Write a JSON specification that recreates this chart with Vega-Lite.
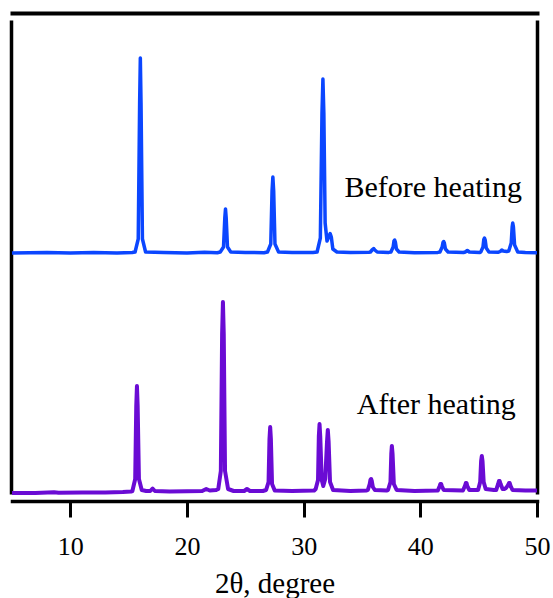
{
  "$schema": "https://vega.github.io/schema/vega-lite/v6.json",
  "width": 525,
  "height": 474,
  "autosize": "none",
  "padding": {"left": 12, "top": 20, "right": 16, "bottom": 104},
  "background": "white",
  "config": {
    "view": {"stroke": null},
    "axis": {"titleFont": "Liberation Serif", "titleFontSize": 29, "titleFontWeight": "normal", "titleColor": "black", "labelFont": "Liberation Serif"}
  },
  "datasets": {
    "before": [
      {"t": 5, "i": 0}, {"t": 8, "i": 0.5}, {"t": 10, "i": 0}, {"t": 12, "i": 0.5}, {"t": 14, "i": 0}, {"t": 15.3, "i": 0.5},
      {"t": 15.55, "i": 1}, {"t": 15.82, "i": 14}, {"t": 15.94, "i": 150}, {"t": 16.0, "i": 195}, {"t": 16.06, "i": 150}, {"t": 16.18, "i": 14}, {"t": 16.45, "i": 1},
      {"t": 18, "i": 0.5}, {"t": 20, "i": 0}, {"t": 21.5, "i": 0.8}, {"t": 22.6, "i": 0.3},
      {"t": 22.85, "i": 1}, {"t": 23.13, "i": 6}, {"t": 23.24, "i": 35}, {"t": 23.3, "i": 44}, {"t": 23.36, "i": 35}, {"t": 23.47, "i": 6}, {"t": 23.75, "i": 1},
      {"t": 25, "i": 0.5}, {"t": 26.6, "i": 0.3},
      {"t": 26.9, "i": 1}, {"t": 27.18, "i": 9}, {"t": 27.29, "i": 62}, {"t": 27.36, "i": 76}, {"t": 27.43, "i": 62}, {"t": 27.54, "i": 9}, {"t": 27.85, "i": 1},
      {"t": 29, "i": 0.5}, {"t": 30.8, "i": 0.5},
      {"t": 31.15, "i": 1}, {"t": 31.43, "i": 15}, {"t": 31.57, "i": 140}, {"t": 31.65, "i": 174}, {"t": 31.73, "i": 140}, {"t": 31.84, "i": 30}, {"t": 32.0, "i": 12}, {"t": 32.17, "i": 17}, {"t": 32.27, "i": 19.5}, {"t": 32.37, "i": 16}, {"t": 32.5, "i": 4}, {"t": 32.85, "i": 1},
      {"t": 34, "i": 0.5}, {"t": 35.6, "i": 0.8},
      {"t": 35.72, "i": 1}, {"t": 35.9, "i": 3.5}, {"t": 36.0, "i": 4.5}, {"t": 36.1, "i": 3}, {"t": 36.3, "i": 1},
      {"t": 37.3, "i": 0.6},
      {"t": 37.48, "i": 1}, {"t": 37.67, "i": 6}, {"t": 37.74, "i": 12}, {"t": 37.8, "i": 13}, {"t": 37.86, "i": 11}, {"t": 37.95, "i": 4}, {"t": 38.18, "i": 1},
      {"t": 39.5, "i": 0.3}, {"t": 41.5, "i": 0.6},
      {"t": 41.68, "i": 1}, {"t": 41.87, "i": 6}, {"t": 41.94, "i": 10.5}, {"t": 42.0, "i": 11.5}, {"t": 42.06, "i": 10}, {"t": 42.15, "i": 4}, {"t": 42.38, "i": 1},
      {"t": 43.7, "i": 0.5},
      {"t": 43.85, "i": 1}, {"t": 44.03, "i": 2.5}, {"t": 44.2, "i": 1},
      {"t": 45.1, "i": 0.5},
      {"t": 45.18, "i": 1}, {"t": 45.37, "i": 6}, {"t": 45.44, "i": 13.5}, {"t": 45.5, "i": 15}, {"t": 45.56, "i": 13}, {"t": 45.65, "i": 5}, {"t": 45.88, "i": 1},
      {"t": 46.7, "i": 0.8},
      {"t": 46.85, "i": 1.5}, {"t": 46.98, "i": 3}, {"t": 47.1, "i": 2}, {"t": 47.4, "i": 1.5},
      {"t": 47.58, "i": 2}, {"t": 47.79, "i": 10}, {"t": 47.87, "i": 26}, {"t": 47.92, "i": 30}, {"t": 47.98, "i": 26}, {"t": 48.08, "i": 8}, {"t": 48.35, "i": 1},
      {"t": 49, "i": 0.5}, {"t": 50, "i": 0.3}
    ],
    "after": [
      {"t": 5, "i": 1}, {"t": 7, "i": 1}, {"t": 8.6, "i": 1.8}, {"t": 9, "i": 1.2}, {"t": 11, "i": 1.5}, {"t": 13, "i": 1.5}, {"t": 14.5, "i": 2}, {"t": 15.2, "i": 2.5},
      {"t": 15.32, "i": 3}, {"t": 15.56, "i": 15}, {"t": 15.65, "i": 88}, {"t": 15.71, "i": 108}, {"t": 15.77, "i": 88}, {"t": 15.88, "i": 15}, {"t": 16.12, "i": 4}, {"t": 16.5, "i": 3},
      {"t": 16.85, "i": 3}, {"t": 17.05, "i": 5.5}, {"t": 17.25, "i": 3},
      {"t": 18.5, "i": 2.5}, {"t": 20, "i": 2.7}, {"t": 21.3, "i": 3}, {"t": 21.65, "i": 5}, {"t": 21.95, "i": 3.5}, {"t": 22.5, "i": 4},
      {"t": 22.68, "i": 5}, {"t": 22.9, "i": 23}, {"t": 23.01, "i": 160}, {"t": 23.08, "i": 192}, {"t": 23.15, "i": 160}, {"t": 23.26, "i": 23}, {"t": 23.52, "i": 5}, {"t": 24, "i": 3},
      {"t": 24.9, "i": 3}, {"t": 25.14, "i": 5}, {"t": 25.4, "i": 3},
      {"t": 26.5, "i": 3},
      {"t": 26.78, "i": 4}, {"t": 26.99, "i": 12}, {"t": 27.07, "i": 55}, {"t": 27.13, "i": 67}, {"t": 27.19, "i": 55}, {"t": 27.29, "i": 10}, {"t": 27.52, "i": 3.5},
      {"t": 29, "i": 3}, {"t": 30.9, "i": 3.5},
      {"t": 31.03, "i": 5}, {"t": 31.23, "i": 14}, {"t": 31.3, "i": 58}, {"t": 31.36, "i": 70}, {"t": 31.42, "i": 58}, {"t": 31.55, "i": 14}, {"t": 31.68, "i": 8}, {"t": 31.85, "i": 15}, {"t": 32.0, "i": 52}, {"t": 32.07, "i": 64}, {"t": 32.14, "i": 52}, {"t": 32.26, "i": 12}, {"t": 32.52, "i": 4},
      {"t": 34, "i": 3}, {"t": 35.4, "i": 3.5},
      {"t": 35.5, "i": 4}, {"t": 35.66, "i": 10}, {"t": 35.72, "i": 14}, {"t": 35.78, "i": 15}, {"t": 35.84, "i": 13}, {"t": 35.93, "i": 7}, {"t": 36.1, "i": 4},
      {"t": 37.1, "i": 3.5},
      {"t": 37.23, "i": 4}, {"t": 37.44, "i": 12}, {"t": 37.51, "i": 40}, {"t": 37.56, "i": 48}, {"t": 37.62, "i": 40}, {"t": 37.73, "i": 10}, {"t": 37.97, "i": 4},
      {"t": 39.5, "i": 3}, {"t": 41.45, "i": 3.5},
      {"t": 41.5, "i": 3.5}, {"t": 41.66, "i": 8}, {"t": 41.72, "i": 10}, {"t": 41.78, "i": 10}, {"t": 41.84, "i": 8}, {"t": 42.0, "i": 4},
      {"t": 43.6, "i": 3.5},
      {"t": 43.65, "i": 3.5}, {"t": 43.82, "i": 8}, {"t": 43.9, "i": 11}, {"t": 43.96, "i": 11}, {"t": 44.02, "i": 8}, {"t": 44.2, "i": 4},
      {"t": 44.9, "i": 4},
      {"t": 44.95, "i": 4}, {"t": 45.13, "i": 12}, {"t": 45.21, "i": 33}, {"t": 45.27, "i": 38}, {"t": 45.33, "i": 33}, {"t": 45.43, "i": 12}, {"t": 45.6, "i": 5}, {"t": 46.3, "i": 4},
      {"t": 46.5, "i": 4}, {"t": 46.67, "i": 10}, {"t": 46.74, "i": 13}, {"t": 46.8, "i": 13}, {"t": 46.88, "i": 10}, {"t": 47.05, "i": 5}, {"t": 47.2, "i": 5},
      {"t": 47.35, "i": 6}, {"t": 47.52, "i": 9}, {"t": 47.6, "i": 11}, {"t": 47.66, "i": 11}, {"t": 47.74, "i": 8}, {"t": 47.9, "i": 4},
      {"t": 49, "i": 3.5}, {"t": 50, "i": 3.5}
    ],
    "beforeLabel": [{"t": 33.5, "i": 56, "label": "Before heating"}],
    "afterLabel": [{"t": 34.55, "i": 80, "label": "After heating"}]
  },
  "layer": [
    {
      "layer": [
        {
          "data": {"name": "before"},
          "mark": {"type": "line", "color": "#0b46ff", "strokeWidth": 3.5, "strokeJoin": "round"},
          "encoding": {
            "x": {
              "field": "t", "type": "quantitative",
              "scale": {"domain": [5, 50], "nice": false, "zero": false},
              "axis": {"orient": "top", "offset": 7, "labels": false, "ticks": false, "grid": false, "title": null, "domainWidth": 4, "domainColor": "black", "domainCap": "square"}
            },
            "y": {
              "field": "i", "type": "quantitative",
              "scale": {"domain": [-241, 233], "nice": false, "zero": false},
              "axis": {"orient": "left", "offset": 1, "labels": false, "ticks": false, "grid": false, "title": null, "domainWidth": 3.5, "domainColor": "black"}
            }
          }
        },
        {
          "data": {"name": "beforeLabel"},
          "mark": {"type": "text", "align": "left", "baseline": "alphabetic", "font": "Liberation Serif", "fontSize": 30, "color": "black"},
          "encoding": {
            "x": {"field": "t", "type": "quantitative"},
            "y": {"field": "i", "type": "quantitative"},
            "text": {"field": "label"}
          }
        }
      ]
    },
    {
      "layer": [
        {
          "data": {"name": "after"},
          "mark": {"type": "line", "color": "#6a0bd4", "strokeWidth": 4, "strokeJoin": "round"},
          "encoding": {
            "x": {
              "field": "t", "type": "quantitative",
              "scale": {"domain": [5, 50], "nice": false, "zero": false},
              "axis": {
                "orient": "bottom", "offset": 7, "values": [10, 20, 30, 40, 50], "grid": false,
                "domainWidth": 3.5, "domainColor": "black", "domainCap": "square",
                "tickColor": "black", "tickWidth": 3, "tickSize": 16,
                "labelFont": "Liberation Serif", "labelFontSize": 26, "labelColor": "black", "labelPadding": 16, "labelFlush": false, "labelOverlap": false,
                "title": "2θ, degree", "titleFont": "Liberation Serif", "titleFontSize": 29, "titleFontWeight": "normal", "titleColor": "black", "titlePadding": 10
              }
            },
            "y": {
              "field": "i", "type": "quantitative",
              "scale": {"domain": [0, 474], "nice": false, "zero": false},
              "axis": {"orient": "right", "offset": 0, "labels": false, "ticks": false, "grid": false, "title": null, "domainWidth": 3.5, "domainColor": "black"}
            }
          }
        },
        {
          "data": {"name": "afterLabel"},
          "mark": {"type": "text", "align": "left", "baseline": "alphabetic", "font": "Liberation Serif", "fontSize": 30, "color": "black"},
          "encoding": {
            "x": {"field": "t", "type": "quantitative"},
            "y": {"field": "i", "type": "quantitative"},
            "text": {"field": "label"}
          }
        }
      ]
    }
  ],
  "resolve": {"scale": {"y": "independent"}, "axis": {"x": "independent", "y": "independent"}}
}
